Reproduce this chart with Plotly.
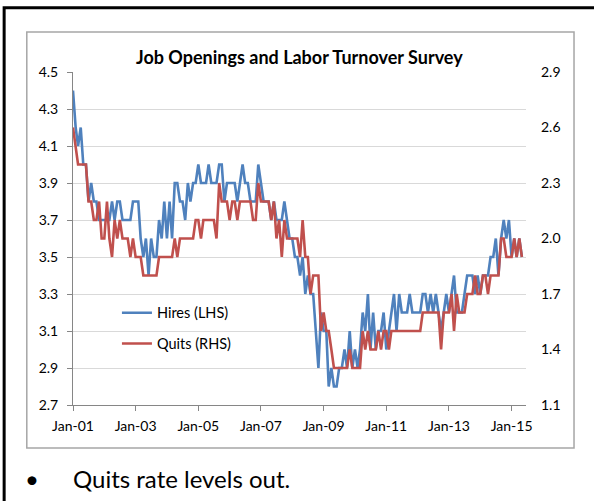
import pandas as pd
import plotly.graph_objects as go

# Monthly JOLTS rates, Jan 2001 - May 2015
hires_2001 = [4.4, 4.2, 4.1, 4.2, 4.0, 4.0, 3.8, 3.9, 3.8, 3.8, 3.7, 3.7]
hires_2002 = [3.7, 3.7, 3.7, 3.8, 3.7, 3.8, 3.8, 3.7, 3.7, 3.7, 3.7, 3.8]
hires_2003 = [3.8, 3.8, 3.6, 3.5, 3.6, 3.4, 3.6, 3.5, 3.5, 3.7, 3.6, 3.8]
hires_2004 = [3.6, 3.8, 3.6, 3.9, 3.9, 3.8, 3.8, 3.7, 3.9, 3.8, 3.9, 3.9]
hires_2005 = [4.0, 3.9, 3.9, 3.9, 4.0, 3.9, 3.9, 3.9, 4.0, 4.0, 3.8, 3.9]
hires_2006 = [3.9, 3.9, 3.9, 3.8, 3.9, 4.0, 3.9, 3.9, 3.8, 3.8, 3.8, 4.0]
hires_2007 = [3.9, 3.8, 3.8, 3.8, 3.7, 3.8, 3.7, 3.7, 3.7, 3.8, 3.7, 3.6]
hires_2008 = [3.6, 3.5, 3.5, 3.4, 3.5, 3.3, 3.4, 3.3, 3.3, 3.1, 2.9, 3.2]
hires_2009 = [3.1, 3.1, 2.8, 2.9, 2.8, 2.8, 2.9, 2.9, 3.0, 2.9, 3.1, 2.9]
hires_2010 = [3.0, 2.9, 3.0, 3.2, 3.1, 3.3, 3.0, 3.2, 3.0, 3.1, 3.1, 3.2]
hires_2011 = [3.0, 3.1, 3.2, 3.3, 3.1, 3.3, 3.2, 3.2, 3.2, 3.3, 3.2, 3.2]
hires_2012 = [3.2, 3.2, 3.3, 3.3, 3.2, 3.3, 3.2, 3.3, 3.2, 3.1, 3.2, 3.3]
hires_2013 = [3.2, 3.3, 3.4, 3.2, 3.2, 3.2, 3.3, 3.4, 3.4, 3.4, 3.3, 3.4]
hires_2014 = [3.3, 3.4, 3.4, 3.4, 3.5, 3.5, 3.6, 3.4, 3.6, 3.7, 3.6, 3.7]
hires_2015 = [3.5, 3.6, 3.5, 3.6, 3.5]

quits_2001 = [2.6, 2.5, 2.4, 2.4, 2.4, 2.4, 2.2, 2.2, 2.1, 2.1, 2.2, 2.0]
quits_2002 = [2.0, 2.2, 2.0, 1.9, 2.1, 2.0, 2.1, 2.0, 2.0, 2.0, 1.9, 2.0]
quits_2003 = [1.9, 1.9, 1.9, 1.8, 1.8, 1.8, 1.8, 1.8, 1.8, 1.9, 1.9, 1.9]
quits_2004 = [1.9, 1.9, 1.9, 2.0, 1.9, 2.0, 2.0, 2.0, 2.0, 2.0, 2.0, 2.1]
quits_2005 = [2.1, 2.0, 2.1, 2.1, 2.1, 2.1, 2.1, 2.0, 2.3, 2.2, 2.2, 2.2]
quits_2006 = [2.1, 2.2, 2.2, 2.1, 2.2, 2.2, 2.2, 2.2, 2.2, 2.1, 2.1, 2.3]
quits_2007 = [2.2, 2.2, 2.2, 2.2, 2.1, 2.2, 2.0, 2.1, 1.9, 2.1, 2.0, 2.0]
quits_2008 = [2.0, 2.0, 2.0, 1.9, 2.1, 1.9, 1.9, 1.7, 1.8, 1.8, 1.8, 1.5]
quits_2009 = [1.6, 1.5, 1.5, 1.4, 1.3, 1.3, 1.3, 1.3, 1.3, 1.3, 1.4, 1.3]
quits_2010 = [1.3, 1.3, 1.3, 1.5, 1.4, 1.5, 1.4, 1.4, 1.4, 1.5, 1.4, 1.5]
quits_2011 = [1.5, 1.4, 1.5, 1.5, 1.5, 1.5, 1.5, 1.5, 1.5, 1.5, 1.5, 1.5]
quits_2012 = [1.5, 1.5, 1.6, 1.6, 1.6, 1.6, 1.6, 1.6, 1.6, 1.4, 1.6, 1.6]
quits_2013 = [1.6, 1.7, 1.5, 1.7, 1.6, 1.6, 1.6, 1.7, 1.7, 1.7, 1.8, 1.7]
quits_2014 = [1.7, 1.8, 1.8, 1.7, 1.8, 1.8, 1.8, 1.8, 2.0, 2.0, 1.9, 1.9]
quits_2015 = [1.9, 2.0, 1.9, 2.0, 1.9]

hires = (hires_2001 + hires_2002 + hires_2003 + hires_2004 + hires_2005 +
         hires_2006 + hires_2007 + hires_2008 + hires_2009 + hires_2010 +
         hires_2011 + hires_2012 + hires_2013 + hires_2014 + hires_2015)
quits = (quits_2001 + quits_2002 + quits_2003 + quits_2004 + quits_2005 +
         quits_2006 + quits_2007 + quits_2008 + quits_2009 + quits_2010 +
         quits_2011 + quits_2012 + quits_2013 + quits_2014 + quits_2015)
months = pd.date_range("2001-01-01", periods=len(hires), freq="MS")

tick_dates = pd.date_range("2001-01-01", "2015-01-01", freq="24MS")
tick_labels = ["Jan-01", "Jan-03", "Jan-05", "Jan-07", "Jan-09", "Jan-11", "Jan-13", "Jan-15"]

FONT = "Lato"
BLUE = "#4F81BD"
RED = "#C0504D"
AXIS = "#868686"

fig = go.Figure()
fig.add_trace(go.Scatter(x=months, y=hires, mode="lines", name="Hires (LHS)",
                         line=dict(color=BLUE, width=2.6), legendgroup="h"))
fig.add_trace(go.Scatter(x=months, y=quits, mode="lines", name="Quits (RHS)",
                         line=dict(color=RED, width=2.6), yaxis="y2", legendgroup="q"))

fig.update_layout(
    width=594, height=501, autosize=False,
    margin=dict(l=73, r=68, t=72, b=96),
    paper_bgcolor="white", plot_bgcolor="white",
    font=dict(family=FONT, size=13, color="#000000"),
    showlegend=True,
    legend=dict(x=0.097, y=0.325, xanchor="left", yanchor="top",
                font=dict(family=FONT, size=14.5, color="#000000"),
                bgcolor="rgba(0,0,0,0)", tracegroupgap=9,
                itemwidth=30),
    xaxis=dict(type="date", range=["2001-01-01", "2015-06-18"],
               tickvals=tick_dates, ticktext=tick_labels,
               showgrid=False, zeroline=False,
               showline=True, linecolor=AXIS, linewidth=1,
               ticks="outside", ticklen=5, tickcolor=AXIS,
               ticklabelstandoff=3,
               tickfont=dict(family=FONT, size=14)),
    yaxis=dict(range=[2.7, 4.5], dtick=0.2, tick0=2.7, tickformat=".1f",
               showgrid=True, gridcolor="#D9D9D9", gridwidth=1, zeroline=False,
               showline=True, linecolor=AXIS, linewidth=1,
               ticks="outside", ticklen=5, tickcolor=AXIS,
               ticklabelstandoff=6,
               tickfont=dict(family=FONT, size=14)),
    yaxis2=dict(range=[1.1, 2.9], dtick=0.3, tick0=1.1, tickformat=".1f",
                overlaying="y", side="right",
                showgrid=False, zeroline=False, showline=False, ticks="",
                ticklabelstandoff=14,
                tickfont=dict(family=FONT, size=14)),
    annotations=[
        dict(text="<b>Job Openings and Labor Turnover Survey</b>",
             xref="paper", yref="paper", x=0.5, y=1.0, yshift=15,
             xanchor="center", yanchor="middle", showarrow=False,
             font=dict(family=FONT, size=18, color="#000000")),
        dict(text="•", xref="paper", yref="paper", x=-0.09, y=-0.22,
             xanchor="center", yanchor="middle", showarrow=False,
             font=dict(family=FONT, size=24, color="#000000")),
        dict(text="Quits rate levels out.", xref="paper", yref="paper",
             x=-0.004, y=-0.22, xanchor="left", yanchor="middle", showarrow=False,
             font=dict(family=FONT, size=24, color="#000000")),
    ],
    shapes=[
        # outer slide frame (runs past the right and bottom edges)
        dict(type="rect", xref="paper", yref="paper",
             x0=-0.152, x1=1.3, y0=-0.4, y1=1.193,
             line=dict(color="#000000", width=3)),
        # chart area border
        dict(type="rect", xref="paper", yref="paper",
             x0=-0.102, x1=1.106, y0=-0.129, y1=1.12,
             line=dict(color="#A6A6A6", width=1.5)),
    ],
)

fig.write_html("out.html")
